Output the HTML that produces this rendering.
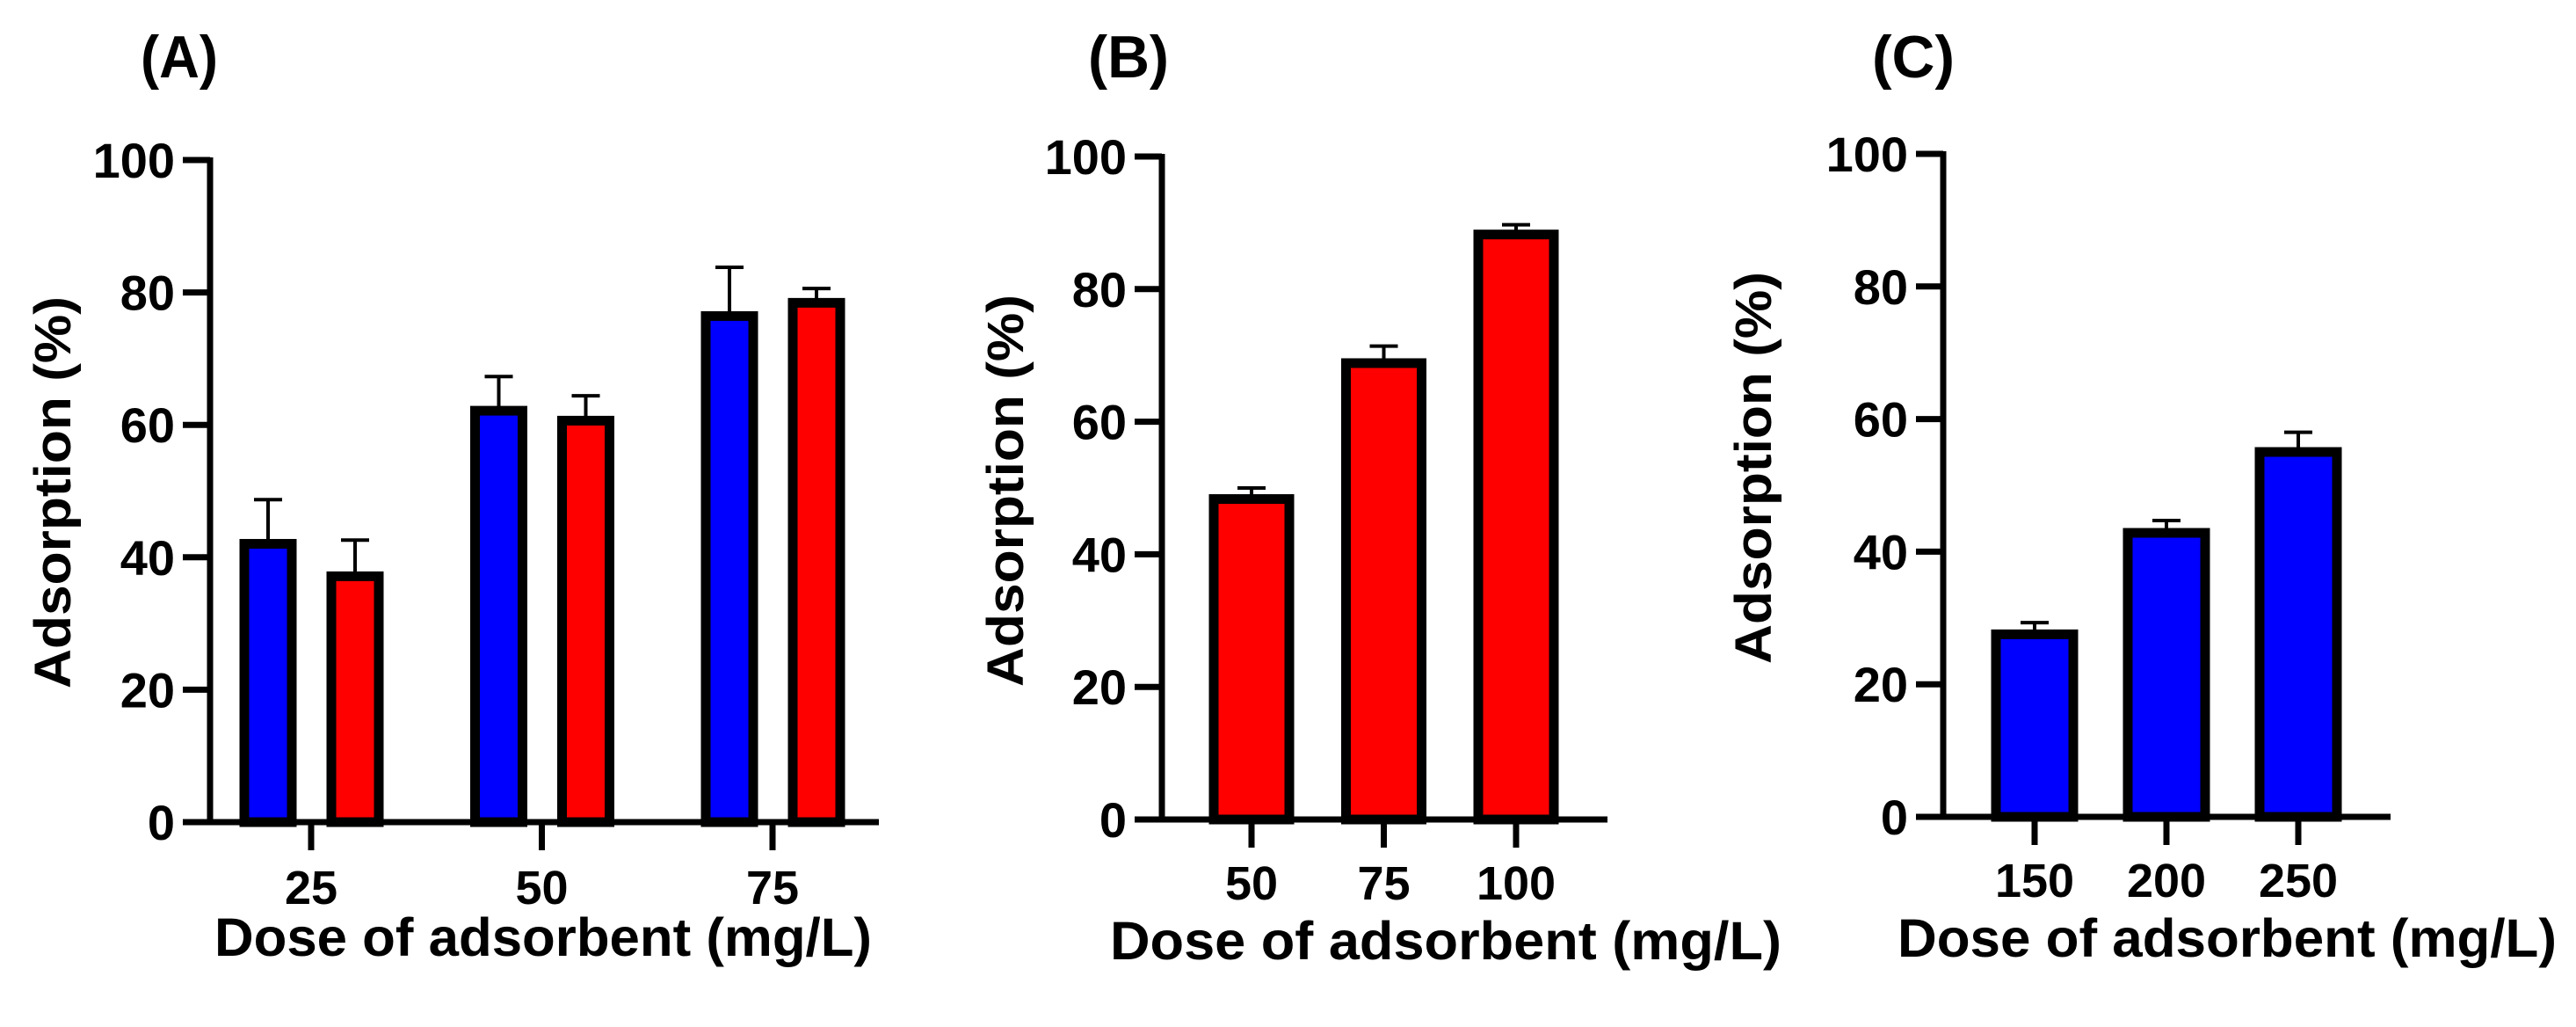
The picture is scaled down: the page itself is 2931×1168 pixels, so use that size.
<!DOCTYPE html>
<html><head><meta charset="utf-8"><style>
html,body{margin:0;padding:0;background:#fff;}
svg{display:block;font-family:"Liberation Sans",Arial,sans-serif;font-weight:bold;}
</style></head><body>
<svg id="fig" width="2931" height="1168" viewBox="0 0 2931 1168" xmlns="http://www.w3.org/2000/svg"></svg>
<script>
// Panel A data
const catsA = ["25","50","75"];
const blueA = [42.7, 62.8, 77.1];
const blueErrA = [48.7, 67.3, 83.8];
const redA = [37.8, 61.3, 79.1];
const redErrA = [42.6, 64.4, 80.6];
// Panel B data
const catsB = ["50","75","100"];
const redB = [49.0, 69.5, 88.9];
const redErrB = [50.0, 71.4, 89.7];
// Panel C data
const catsC = ["150","200","250"];
const blueC = [28.2, 43.5, 55.7];
const blueErrC = [29.3, 44.7, 58.0];
const yTicks = [0, 20, 40, 60, 80, 100];

const NS = "http://www.w3.org/2000/svg";
const svg = document.getElementById('fig');
function mk(tag, attrs, parent, text) {
  const e = document.createElementNS(NS, tag);
  for (const k in attrs) e.setAttribute(k, attrs[k]);
  if (text !== undefined) e.textContent = text;
  (parent || svg).appendChild(e);
  return e;
}

function panel(cfg) {
  const g = mk('g', {});
  
  
  const y = v => cfg.y0 - (cfg.y0 - cfg.y100) * v / 100;
  // bars
  cfg.series.forEach((s, si) => {
    s.vals.forEach((v, i) => {
      const cx = cfg.catX(i) + s.offset;
      const bw = cfg.barW;
      const top = y(v);
      const eb = mk('line', {x1: cx, x2: cx, y1: top, y2: y(s.err[i]), stroke: '#000', 'stroke-width': 4}, g);
      
      
      const cap = mk('line', {x1: cx - 16, x2: cx + 16, y1: y(s.err[i]), y2: y(s.err[i]), stroke: '#000', 'stroke-width': 4}, g);
      
      
      const r = mk('rect', {x: cx - bw / 2 + 5, y: top + 5, width: bw - 10, height: cfg.y0 - top - 5, fill: s.color, stroke: '#000', 'stroke-width': 11}, g);
      
      
    });
  });
  // y axis
  const ya = mk('line', {x1: cfg.ax, x2: cfg.ax, y1: cfg.y100 - 3, y2: cfg.y0 + 3, stroke: '#000', 'stroke-width': 7}, g);
  
  
  yTicks.forEach(t => {
    const tl = mk('line', {x1: cfg.ax - 31, x2: cfg.ax, y1: y(t), y2: y(t), stroke: '#000', 'stroke-width': 7}, g);
    
    
    const tx = mk('text', {x: cfg.ax - 40, y: y(t) + 20, 'text-anchor': 'end', 'font-size': 56}, g, String(t));
    
    
  });
  // x axis
  const xa = mk('line', {x1: cfg.ax - 3, x2: cfg.xEnd, y1: cfg.y0, y2: cfg.y0, stroke: '#000', 'stroke-width': 7}, g);
  
  
  cfg.cats.forEach((c, i) => {
    const cx = cfg.catX(i);
    const tl = mk('line', {x1: cx, x2: cx, y1: cfg.y0, y2: cfg.y0 + 32, stroke: '#000', 'stroke-width': 7}, g);
    
    
    const tx = mk('text', {x: cx, y: cfg.tickBase, 'text-anchor': 'middle', 'font-size': 54}, g, c);
    
    
  });
  const xt = mk('text', {x: cfg.xtX, y: cfg.xtBase, 'font-size': 61, textLength: cfg.xtLen, lengthAdjust: 'spacingAndGlyphs'}, g, 'Dose of adsorbent (mg/L)');
  
  
  const yt = mk('text', {x: 0, y: 0, 'font-size': 58, 'text-anchor': 'middle', textLength: 446, lengthAdjust: 'spacingAndGlyphs', transform: 'translate(' + cfg.ytX + ',' + cfg.ytY + ') rotate(-90)'}, g, 'Adsorption (%)');
  
  
  const pl = mk('text', {x: cfg.lblX, y: 88, 'font-size': 68, textLength: cfg.lblW, lengthAdjust: 'spacingAndGlyphs'}, g, cfg.label);
  
  
}

panel({name: 'panel-a', label: '(A)', lblX: 160, lblW: 88, cats: catsA,
  ax: 239, y0: 935, y100: 182, xEnd: 1000, catX: i => 354 + i * 262.5, barW: 64,
  series: [{key: 'blue', color: '#0000ff', vals: blueA, err: blueErrA, offset: -49},
           {key: 'red', color: '#ff0000', vals: redA, err: redErrA, offset: 50}],
  tickBase: 1028, xtX: 244, xtBase: 1087, xtLen: 748, ytX: 80, ytY: 560});

panel({name: 'panel-b', label: '(B)', lblX: 1238, lblW: 92, cats: catsB,
  ax: 1322, y0: 932, y100: 178, xEnd: 1829, catX: i => 1424 + i * 150.5, barW: 96,
  series: [{key: 'red', color: '#ff0000', vals: redB, err: redErrB, offset: 0}],
  tickBase: 1023, xtX: 1263, xtBase: 1091, xtLen: 764, ytX: 1164, ytY: 558});

panel({name: 'panel-c', label: '(C)', lblX: 2130, lblW: 94, cats: catsC,
  ax: 2211, y0: 929, y100: 175, xEnd: 2720, catX: i => 2315 + i * 150, barW: 98,
  series: [{key: 'blue', color: '#0000ff', vals: blueC, err: blueErrC, offset: 0}],
  tickBase: 1020, xtX: 2159, xtBase: 1088, xtLen: 750, ytX: 2015, ytY: 532});
</script>
</body></html>
